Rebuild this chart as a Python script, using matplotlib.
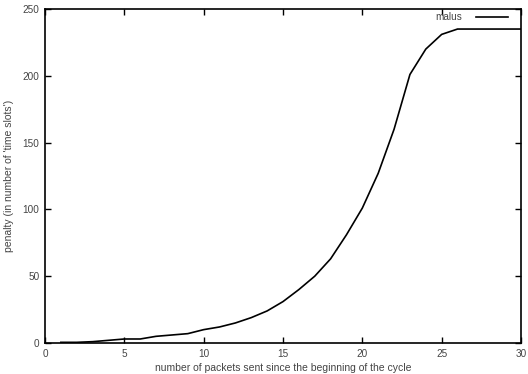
import matplotlib
matplotlib.use("Agg")
import matplotlib.pyplot as plt

plt.rcParams['font.family'] = ['Liberation Sans', 'DejaVu Sans']

packets = list(range(1, 31))
malus = [0.5, 0.5, 1, 2, 3, 3, 5, 6, 7, 10, 12, 15, 19, 24, 31,
         40, 50, 63, 81, 101, 127, 160, 201, 220, 231, 235, 235, 235, 235, 235]

fig = plt.figure(figsize=(5.28, 3.74), dpi=100)
ax = fig.add_axes([45 / 528, 1 - 343 / 374, 476 / 528, 334 / 374])

ax.plot(packets, malus, color="black", lw=1.2, label="malus")

ax.set_xlim(0, 30)
ax.set_ylim(0, 250)
ax.set_xticks(range(0, 31, 5))
ax.set_yticks(range(0, 251, 50))
ax.tick_params(direction="in", top=True, right=True, length=4, width=1,
               labelsize=7.2, labelcolor="#444444", pad=4)
for s in ax.spines.values():
    s.set_linewidth(1.2)

ax.set_xlabel("number of packets sent since the beginning of the cycle",
              fontsize=7.5, color="#444444", labelpad=3)
ax.set_ylabel("penalty (in number of 'time slots')",
              fontsize=7.5, color="#444444", labelpad=6)

leg = ax.legend(loc="upper right", bbox_to_anchor=(0.9727, 0.99),
                frameon=False, markerfirst=False,
                fontsize=7.2, handlelength=3.2, handletextpad=1.4,
                borderaxespad=0, borderpad=0)
for t in leg.get_texts():
    t.set_color("#444444")

fig.savefig("out.png", dpi=100)
